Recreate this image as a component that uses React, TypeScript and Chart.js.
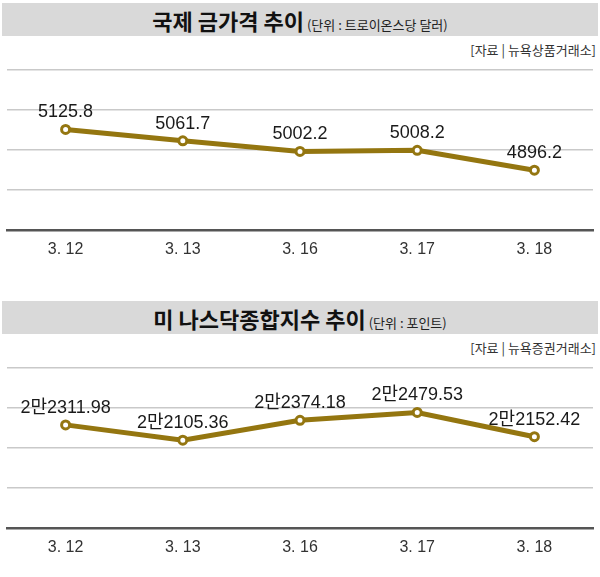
import { useEffect, useRef } from "react";
import { Chart, registerables } from "chart.js";

Chart.register(...registerables);

const dates = ["3. 12", "3. 13", "3. 16", "3. 17", "3. 18"];
const goldPrices = [5125.8, 5061.7, 5002.2, 5008.2, 4896.2];
const nasdaqIndex = [22311.98, 22105.36, 22374.18, 22479.53, 22152.42];

const GOLD = "#947610";
const LABEL_FONT = "18px 'Liberation Sans', 'Noto Sans CJK KR', sans-serif";

// 점 위에 값 표시
function makeLabelPlugin(format: (v: number) => string) {
  return {
    id: "pointLabels",
    afterDatasetsDraw(chart: Chart) {
      const { ctx } = chart;
      const meta = chart.getDatasetMeta(0);
      const values = chart.data.datasets[0].data as number[];
      ctx.save();
      ctx.font = LABEL_FONT;
      ctx.fillStyle = "#1a1a1a";
      ctx.textAlign = "center";
      ctx.textBaseline = "alphabetic";
      meta.data.forEach((pt, i) => {
        ctx.fillText(format(values[i]), pt.x, pt.y - 12);
      });
      ctx.restore();
    },
  };
}

const formatGold = (v: number) => v.toFixed(1);
const formatNasdaq = (v: number) =>
  Math.floor(v / 10000) + "만" + (v % 10000).toFixed(2);

type PanelProps = {
  title: string;
  unit: string;
  source: string;
  values: number[];
  yMin: number;
  yMax: number;
  step: number;
  format: (v: number) => string;
};

function Panel({ title, unit, source, values, yMin, yMax, step, format }: PanelProps) {
  const canvasRef = useRef<HTMLCanvasElement | null>(null);

  useEffect(() => {
    if (!canvasRef.current) return;
    const chart = new Chart(canvasRef.current, {
      type: "line",
      data: {
        labels: dates,
        datasets: [
          {
            data: values,
            borderColor: GOLD,
            borderWidth: 5,
            pointRadius: 4,
            pointBorderWidth: 3,
            pointBackgroundColor: "#ffffff",
            pointBorderColor: GOLD,
            tension: 0,
          },
        ],
      },
      options: {
        responsive: false,
        animation: false,
        layout: { padding: { top: 10, left: 4, right: 2, bottom: 0 } },
        plugins: { legend: { display: false }, tooltip: { enabled: false } },
        scales: {
          x: {
            offset: true,
            grid: { display: false, drawTicks: false },
            border: { color: "#555555", width: 2.5 },
            ticks: {
              padding: 10,
              color: "#333333",
              font: { family: "'Liberation Sans', sans-serif", size: 16 },
            },
            afterFit: (s) => {
              s.height = 40;
            },
          },
          y: {
            min: yMin,
            max: yMax,
            ticks: { stepSize: step, display: false },
            grid: {
              color: (c) => (c.index === 0 ? "rgba(0,0,0,0)" : "#c9c9c9"),
              lineWidth: 1.5,
              drawTicks: false,
            },
            border: { display: false },
          },
        },
      },
      plugins: [makeLabelPlugin(format)],
    });
    return () => chart.destroy();
  }, []);

  return (
    <div style={{ position: "relative", width: 600, height: 298 }}>
      <div
        style={{
          position: "absolute",
          top: 3,
          left: 2,
          width: 596,
          height: 33,
          background: "#d9d9d9",
          display: "flex",
          justifyContent: "center",
          alignItems: "baseline",
          paddingTop: 2,
          boxSizing: "border-box",
          fontFamily: "'Noto Sans CJK KR', sans-serif",
          color: "#111",
        }}
      >
        <span style={{ fontSize: 22, fontWeight: 700, lineHeight: "30px" }}>{title}</span>
        <span style={{ fontSize: 13, marginLeft: 3, color: "#222" }}>{unit}</span>
      </div>
      <div
        style={{
          position: "absolute",
          top: 41,
          right: 4,
          fontSize: 13,
          lineHeight: "18px",
          fontFamily: "'Noto Sans CJK KR', sans-serif",
          color: "#333",
        }}
      >
        {source}
      </div>
      <canvas
        ref={canvasRef}
        width={600}
        height={210}
        style={{ position: "absolute", top: 60, left: 0 }}
      />
    </div>
  );
}

export default function App() {
  useEffect(() => {
    document.body.style.margin = "0";
  }, []);

  return (
    <div style={{ width: 600, height: 577, background: "#fff", position: "relative" }}>
      <Panel
        title="국제 금가격 추이"
        unit="(단위 : 트로이온스당 달러)"
        source="[자료 | 뉴욕상품거래소]"
        values={goldPrices}
        yMin={4560}
        yMax={5460}
        step={225}
        format={formatGold}
      />
      <Panel
        title="미 나스닥종합지수 추이"
        unit="(단위 : 포인트)"
        source="[자료 | 뉴욕증권거래소]"
        values={nasdaqIndex}
        yMin={20920}
        yMax={23080}
        step={540}
        format={formatNasdaq}
      />
    </div>
  );
}
